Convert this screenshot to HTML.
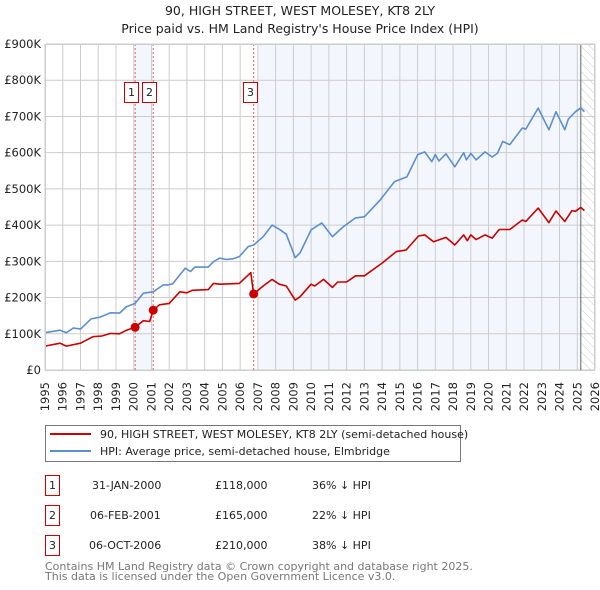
<!DOCTYPE html>
<html><head><meta charset="utf-8"><style>
body{margin:0;background:#fff;font-family:"DejaVu Sans","Liberation Sans",sans-serif;}
svg{display:block}
text{font-family:"DejaVu Sans","Liberation Sans",sans-serif;}
</style></head><body>
<svg id="c" width="600" height="590" viewBox="0 0 600 590">
<defs><pattern id="hatch" width="6" height="6" patternUnits="userSpaceOnUse" patternTransform="rotate(-45)"><line x1="0" y1="0" x2="0" y2="6" stroke="#ccc" stroke-width="1"/></pattern></defs>
<text x="300" y="15" text-anchor="middle" font-size="12.5" fill="#222">90, HIGH STREET, WEST MOLESEY, KT8 2LY</text>
<text x="300" y="33" text-anchor="middle" font-size="12.5" fill="#222">Price paid vs. HM Land Registry's House Price Index (HPI)</text>
<g id="plot"></g>
<g>
<rect x="45.5" y="425.5" width="415" height="36" fill="#fff" stroke="#777"/>
<line x1="50" y1="434" x2="91" y2="434" stroke="#cc0000" stroke-width="2"/>
<text x="100" y="438" font-size="11" fill="#222">90, HIGH STREET, WEST MOLESEY, KT8 2LY (semi-detached house)</text>
<line x1="50" y1="451" x2="91" y2="451" stroke="#5b8fd0" stroke-width="2"/>
<text x="100" y="455" font-size="11" fill="#222">HPI: Average price, semi-detached house, Elmbridge</text>
</g>
<g font-size="11" fill="#222">
<rect x="45.5" y="475.5" width="14" height="20" fill="#fff" stroke="#cc0000"/><text x="52.5" y="489" text-anchor="middle">1</text>
<text x="92" y="489">31-JAN-2000</text><text x="215" y="489">£118,000</text><text x="312" y="489">36% ↓ HPI</text>
<rect x="45.5" y="505.5" width="14" height="20" fill="#fff" stroke="#cc0000"/><text x="52.5" y="519" text-anchor="middle">2</text>
<text x="90" y="519">06-FEB-2001</text><text x="215" y="519">£165,000</text><text x="312" y="519">22% ↓ HPI</text>
<rect x="45.5" y="535.5" width="14" height="20" fill="#fff" stroke="#cc0000"/><text x="52.5" y="549" text-anchor="middle">3</text>
<text x="89" y="549">06-OCT-2006</text><text x="215" y="549">£210,000</text><text x="312" y="549">38% ↓ HPI</text>
</g>
<text x="45" y="570" font-size="11" fill="#777">Contains HM Land Registry data © Crown copyright and database right 2025.</text>
<text x="45" y="580" font-size="11" fill="#777">This data is licensed under the Open Government Licence v3.0.</text>
</svg>
<script>
const yTicks=[0,100,200,300,400,500,600,700,800,900];
const yTickLabels=["£0","£100K","£200K","£300K","£400K","£500K","£600K","£700K","£800K","£900K"];
const xYears=[1995,1996,1997,1998,1999,2000,2001,2002,2003,2004,2005,2006,2007,2008,2009,2010,2011,2012,2013,2014,2015,2016,2017,2018,2019,2020,2021,2022,2023,2024,2025,2026];
const hpiT=[1995.0,1995.85,1996.2,1996.6,1997.0,1997.6,1998.1,1998.7,1999.2,1999.6,2000.08,2000.54,2001.1,2001.67,2001.95,2002.2,2002.9,2003.2,2003.45,2004.2,2004.5,2004.85,2005.2,2005.6,2005.95,2006.46,2006.76,2007.3,2007.8,2008.25,2008.6,2009.1,2009.37,2010.0,2010.6,2011.2,2011.8,2012.5,2013.0,2013.9,2014.7,2015.4,2016.0,2016.4,2016.8,2017.0,2017.2,2017.6,2018.1,2018.6,2018.75,2019.0,2019.3,2019.8,2020.2,2020.5,2020.8,2021.2,2021.9,2022.1,2022.8,2023.4,2023.8,2024.3,2024.5,2024.9,2025.2,2025.4];
const hpiV=[103,110,103,116,113,141,146,158,157,175,184,212,216,235,235,238,281,272,284,284,299,309,305,307,313,341,345,368,400,387,375,310,323,387,406,368,395,420,423,470,520,533,594,602,575,595,577,597,561,600,580,598,580,602,588,598,631,622,668,665,723,663,713,663,693,713,724,713];
const ppT=[1995.0,1995.85,1996.2,1997.0,1997.7,1998.2,1998.7,1999.2,1999.6,2000.08,2000.54,2000.9,2001.1,2001.45,2002.0,2002.6,2003.0,2003.3,2004.2,2004.5,2004.85,2005.95,2006.6,2006.76,2007.3,2007.8,2008.2,2008.6,2009.1,2009.37,2010.0,2010.2,2010.7,2011.2,2011.5,2012.0,2012.5,2013.0,2014.0,2014.8,2015.35,2016.05,2016.4,2016.9,2017.6,2018.1,2018.6,2018.8,2019.0,2019.3,2019.8,2020.2,2020.6,2021.2,2021.9,2022.1,2022.8,2023.4,2023.8,2024.3,2024.7,2024.9,2025.2,2025.4];
const ppV=[66,74,66,74,92,94,101,100,110,118,136,134,165,180,184,216,213,220,222,239,237,239,269,210,232,250,237,232,193,202,237,232,250,228,243,243,260,260,295,327,331,370,373,354,366,345,373,357,373,360,373,364,388,388,414,410,447,407,439,410,440,438,449,440];
const saleT=[2000.08,2001.1,2006.76];
const saleV=[118,165,210];
const saleLabels=["1","2","3"];
const X0=45,X1=595,Y0=370,Y1=44;
const xs=t=>X0+(t-1995)/(2026-1995)*(X1-X0);
const ys=v=>Y0-v/900*(Y0-Y1);
const NS="http://www.w3.org/2000/svg";
const g=document.getElementById('plot');
function mk(tag,attrs,parent){const e=document.createElementNS(NS,tag);for(const k in attrs)e.setAttribute(k,attrs[k]);(parent||g).appendChild(e);return e;}
let e;
e=mk('rect',{x:xs(saleT[0]),y:Y1,width:xs(saleT[1])-xs(saleT[0]),height:Y0-Y1,fill:'#f3f7fd'});


e=mk('rect',{x:xs(2007.0),y:Y1,width:xs(2025.2)-xs(2007.0),height:Y0-Y1,fill:'#f3f7fd'});


e=mk('rect',{x:xs(2025.2),y:Y1,width:X1-xs(2025.2),height:Y0-Y1,fill:'url(#hatch)'});


xYears.forEach(yr=>{
 e=mk('line',{x1:xs(yr),x2:xs(yr),y1:Y1,y2:Y0,stroke:'#ccc','stroke-width':1});
 
 
 const tx=xs(yr)+4,ty=Y0+12;
 e=mk('text',{x:tx,y:ty,'text-anchor':'end','font-size':11.5,fill:'#222',transform:`rotate(-90 ${tx} ${ty})`});
 e.textContent=yr;
 
 
});
yTicks.forEach((v,i)=>{
 e=mk('line',{x1:X0,x2:X1,y1:ys(v),y2:ys(v),stroke:'#ccc','stroke-width':1});
 
 
 e=mk('text',{x:X0-4,y:ys(v)+4,'text-anchor':'end','font-size':11.5,fill:'#222'});
 e.textContent=yTickLabels[i];
 
 
});
e=mk('line',{x1:xs(2025.2),x2:xs(2025.2),y1:Y1,y2:Y0,stroke:'#666','stroke-width':1});


saleT.forEach((t,i)=>{
 e=mk('line',{x1:xs(t),x2:xs(t),y1:Y1,y2:Y0,stroke:'#e06060','stroke-width':1,'stroke-dasharray':'2,2'});
 
 
});
function path(T,V,col,name){
 const d=T.map((t,i)=>(i?'L':'M')+xs(t).toFixed(1)+','+ys(V[i]).toFixed(1)).join('');
 const p=mk('path',{d:d,fill:'none',stroke:col,'stroke-width':1.6,'stroke-linejoin':'round'});
 
 
}
path(hpiT,hpiV,'#5b8fd0','hpi-line');
path(ppT,ppV,'#cc0000','property-price-line');
saleT.forEach((t,i)=>{
 e=mk('circle',{cx:xs(t),cy:ys(saleV[i]),r:4.5,fill:'#cc0000'});
 
 
 const bx=Math.round(xs(t))-10.5;
 e=mk('rect',{x:bx,y:82.5,width:14,height:20,fill:'#fff',stroke:'#cc0000'});
 
 
 e=mk('text',{x:bx+7,y:96,'text-anchor':'middle','font-size':11,fill:'#222'});
 e.textContent=saleLabels[i];
 
 
});
e=mk('rect',{x:X0+.5,y:Y1+.5,width:X1-X0-1,height:Y0-Y1,fill:'none',stroke:'#ccc'});


</script>
</body></html>
